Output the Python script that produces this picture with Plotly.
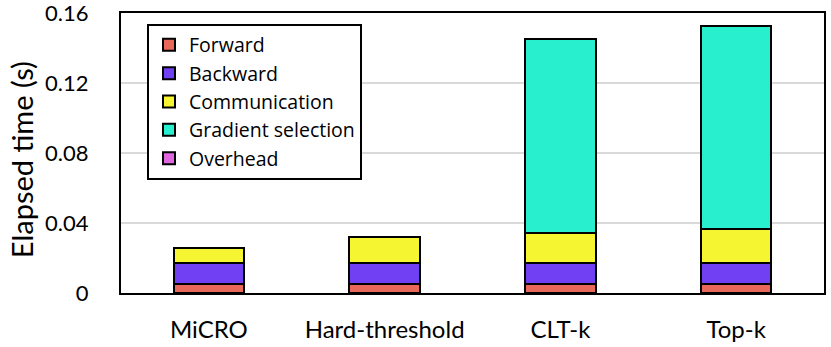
import plotly.graph_objects as go

# elapsed time breakdown per method (seconds)
methods = ['MiCRO', 'Hard-threshold', 'CLT-k', 'Top-k']
forward = [0.0051, 0.0051, 0.0051, 0.0051]
backward = [0.0120, 0.0120, 0.0122, 0.0122]
communication = [0.0086, 0.0147, 0.0170, 0.0193]
grad_selection = [0.0, 0.0004, 0.1110, 0.1163]
overhead = [0.0, 0.0, 0.0, 0.0]

series = [
    ('Forward', forward, '#E8685A'),
    ('Backward', backward, '#7040F2'),
    ('Communication', communication, '#F5F532'),
    ('Gradient selection', grad_selection, '#28F0CF'),
    ('Overhead', overhead, '#E066E0'),
]

font = 'Lato, Open Sans, sans-serif'

fig = go.Figure()
for name, vals, col in series:
    fig.add_trace(go.Bar(
        x=methods, y=vals, name=name,
        marker=dict(color=col, line=dict(color='black', width=2)),
        width=0.4))

fig.update_layout(
    barmode='stack',
    width=831, height=347,
    margin=dict(l=121, r=7, t=13, b=54),
    plot_bgcolor='white', paper_bgcolor='white',
    font=dict(family=font, size=22, color='black'),
    legend=dict(
        x=0.037, y=0.962, xanchor='left', yanchor='top',
        traceorder='normal',
        bgcolor='white', bordercolor='black', borderwidth=2,
        font=dict(family='Open Sans, sans-serif', size=19.5), itemwidth=30,
        tracegroupgap=0),
    xaxis=dict(
        showline=True, linecolor='black', linewidth=2, mirror=True,
        ticks='', ticklabelstandoff=14, tickfont=dict(size=24),
        automargin=False),
    yaxis=dict(
        range=[0, 0.1601], tickvals=[0, 0.04, 0.08, 0.12, 0.16],
        ticktext=['0', '0.04', '0.08', '0.12', '0.16'],
        showline=True, linecolor='black', linewidth=2, mirror=True,
        showgrid=True, gridcolor='#D9D9D9', gridwidth=1.5,
        zeroline=False, ticks='', ticklabelstandoff=26,
        ticklabeloverflow='allow',
        tickfont=dict(size=22), automargin=False),
)

# y axis title placed by hand to sit where the reference has it
fig.add_annotation(
    text='Elapsed time (s)', textangle=-90,
    xref='paper', yref='paper', x=-0.142, y=0.475,
    xanchor='center', yanchor='middle', showarrow=False,
    font=dict(size=29))

# drop the default page margin so the figure sits at the window's corner
fig.write_html('out.html', config={'displayModeBar': False},
               post_script="document.body.style.margin='0';")
